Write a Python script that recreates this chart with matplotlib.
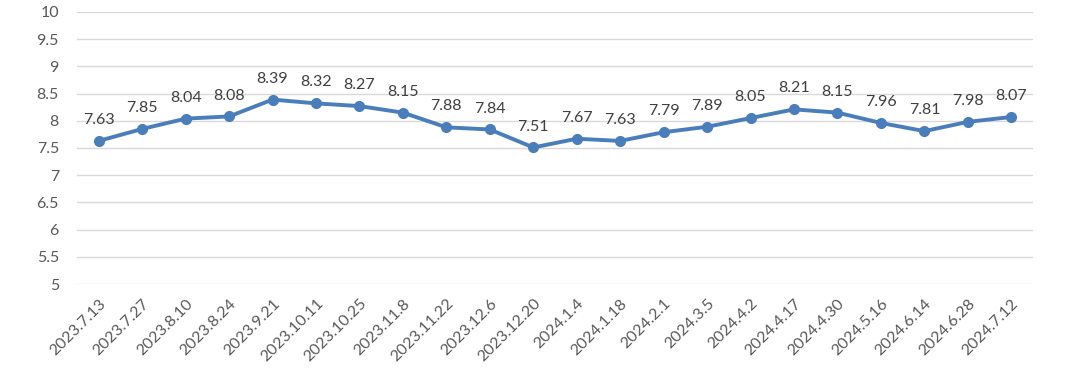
import numpy as np
import matplotlib.pyplot as plt

dates = ["2023.7.13", "2023.7.27", "2023.8.10", "2023.8.24", "2023.9.21",
         "2023.10.11", "2023.10.25", "2023.11.8", "2023.11.22", "2023.12.6",
         "2023.12.20", "2024.1.4", "2024.1.18", "2024.2.1", "2024.3.5",
         "2024.4.2", "2024.4.17", "2024.4.30", "2024.5.16", "2024.6.14",
         "2024.6.28", "2024.7.12"]
values = [7.63, 7.85, 8.04, 8.08, 8.39, 8.32, 8.27, 8.15, 7.88, 7.84,
          7.51, 7.67, 7.63, 7.79, 7.89, 8.05, 8.21, 8.15, 7.96, 7.81,
          7.98, 8.07]
yticks = [5, 5.5, 6, 6.5, 7, 7.5, 8, 8.5, 9, 9.5, 10]

plt.rcParams['font.family'] = ['Lato', 'DejaVu Sans']

fig = plt.figure(figsize=(10.8, 3.71), dpi=100)
ax = fig.add_axes([0.0713, 0.2345, 0.8852, 0.7332])

x = np.arange(len(dates))
ax.plot(x, values, color='#4a7ebb', linewidth=2.8, marker='o', markersize=7,
        zorder=3)

for xi, v in zip(x, values):
    ax.annotate(f"{v:g}", (xi, v), xytext=(0, 10), textcoords='offset points',
                ha='center', va='bottom', fontsize=11.5, color='#404040')

ax.set_xlim(-0.5, len(dates) - 0.5)
ax.set_ylim(5, 10)
ax.set_yticks(yticks)
ax.set_yticklabels([f"{t:g}" for t in yticks])
ax.set_xticks(x)
ax.set_xticklabels(dates, rotation=45, ha='right', rotation_mode='anchor')

ax.grid(axis='y', color='#d9d9d9', linewidth=1)
ax.set_axisbelow(True)
for s in ax.spines.values():
    s.set_visible(False)
ax.tick_params(axis='both', length=0, labelsize=11.5, labelcolor='#595959')
ax.tick_params(axis='y', pad=13)
ax.tick_params(axis='x', pad=9)

fig.savefig('out.png', dpi=100)
